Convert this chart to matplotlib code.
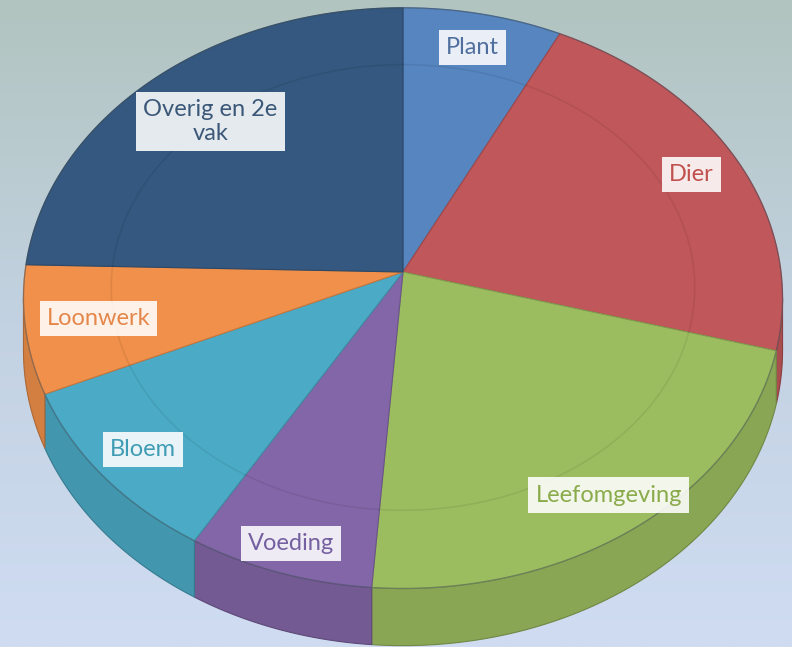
import numpy as np
import matplotlib
matplotlib.use('Agg')
import matplotlib.pyplot as plt
from matplotlib.patches import Polygon
from matplotlib.colors import to_rgb, LinearSegmentedColormap

# data (percent)
categories = ['Plant', 'Dier', 'Leefomgeving', 'Voeding', 'Bloem', 'Loonwerk', 'Overig en 2e\nvak']
shares = [7.4, 21.9, 21.9, 7.3, 9.8, 7.1, 24.6]

# style
colors = ['#5785c0', '#c0575a', '#9cbd5f', '#8366a7', '#4babc6', '#f0904a', '#34587f']
text_colors = ['#4f6f9f', '#c0504d', '#8aab4a', '#7460a0', '#3f9cb4', '#e5874a', '#3b5878']
label_radius = [0.86, 0.86, 0.885, 0.91, 0.875, 0.81, 0.765]

W, H = 792, 647
CX, CY = 403, 272          # pie centre on screen
A, B, K, D = 378, 288, 0.09, 52   # half axes, perspective, depth


def project(r, theta, z):
    u = r * np.sin(theta)
    v = r * np.cos(theta)
    s = 1.0 / (1.0 + K * v)
    return CX + A * u * s, CY + (-B * v + D * z) * s


def shade(c, f):
    return tuple(min(1, max(0, x * f)) for x in to_rgb(c))


fig = plt.figure(figsize=(W / 100, H / 100), dpi=100)
ax = fig.add_axes([0, 0, 1, 1])
ax.set_xlim(0, W)
ax.set_ylim(H, 0)
ax.axis('off')

# background gradient
bg = LinearSegmentedColormap.from_list('bg', ['#b1c4bf', '#c3d2e2', '#cfdcf2'])
grad = np.linspace(0, 1, 256).reshape(-1, 1)
ax.imshow(grad, cmap=bg, extent=[0, W, H, 0], aspect='auto', zorder=0)

total = float(sum(shares))
bounds = np.concatenate([[0], np.cumsum(shares)]) / total * 2 * np.pi
vis0 = np.arccos(-K)
vis1 = 2 * np.pi - vis0

# side walls (front half)
for i, c in enumerate(colors):
    t0, t1 = max(bounds[i], vis0), min(bounds[i + 1], vis1)
    if t1 <= t0:
        continue
    t = np.linspace(t0, t1, 120)
    xt, yt = project(1, t, 0)
    xb, yb = project(1, t[::-1], 1)
    pts = np.column_stack([np.concatenate([xt, xb]), np.concatenate([yt, yb])])
    ax.add_patch(Polygon(pts, closed=True, fc=shade(c, 0.88), ec=shade(c, 0.72),
                         lw=0.8, zorder=2))

# top faces
for i, c in enumerate(colors):
    t = np.linspace(bounds[i], bounds[i + 1], 200)
    xs, ys = project(1, t, 0)
    pts = np.column_stack([np.concatenate([[CX], xs]), np.concatenate([[CY], ys])])
    ax.add_patch(Polygon(pts, closed=True, fc=c, ec=shade(c, 0.82), lw=0.8, zorder=3))

# bevel hint and rim
t = np.linspace(0, 2 * np.pi, 400)
xr, yr = project(0.77, t, 0)
ax.plot(xr, yr, color='black', alpha=0.07, lw=1.2, zorder=4)
xo, yo = project(1, t, 0)
ax.plot(xo, yo, color='#4a5a66', alpha=0.4, lw=1.0, zorder=4)

# labels
for i, name in enumerate(categories):
    mid = (bounds[i] + bounds[i + 1]) / 2
    lx, ly = project(label_radius[i], mid, 0)
    ax.text(lx, ly, name, ha='center', va='center', fontsize=17, family='Lato',
            color=text_colors[i], linespacing=1.2, zorder=6,
            bbox=dict(boxstyle='square,pad=0.3', fc='white', ec='none', alpha=0.88))

fig.savefig('out.png', dpi=100)
